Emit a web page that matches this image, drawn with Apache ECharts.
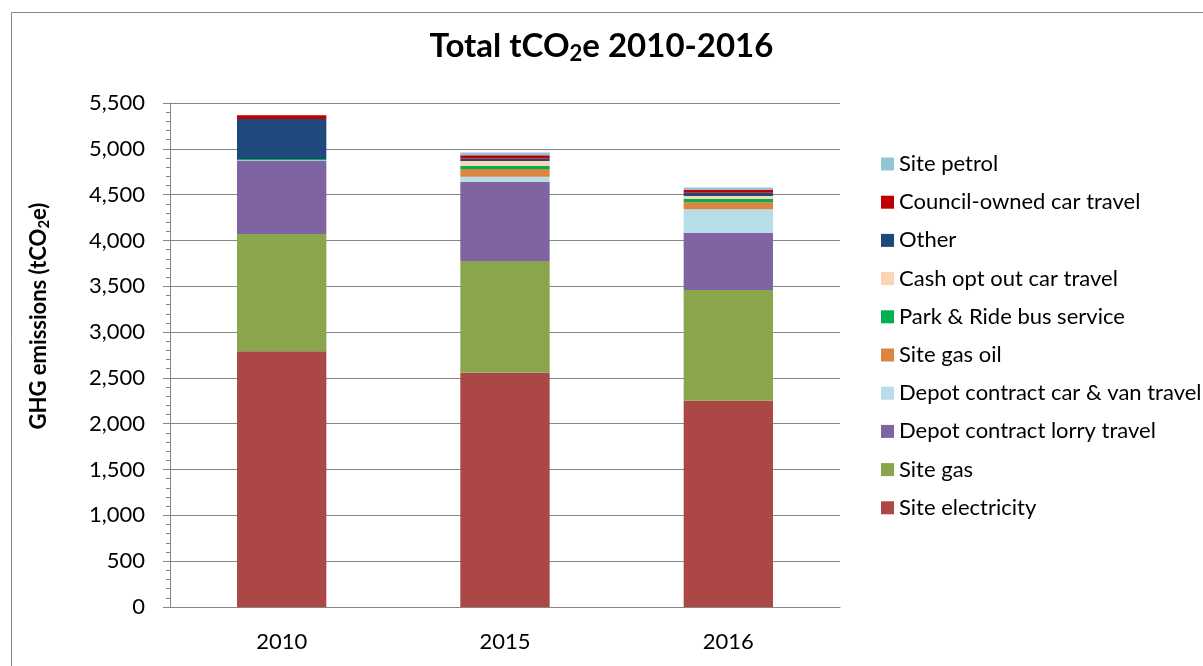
<!DOCTYPE html>
<html>
<head>
<meta charset="utf-8">
<script src="https://cdn.jsdelivr.net/npm/echarts@6/dist/echarts.min.js"></script>
<style>
  html, body { margin: 0; padding: 0; background: #fff; }
  #main { width: 1203px; height: 666px; }
</style>
</head>
<body>
<div id="main"></div>
<script>
// years on the x axis
const years = ['2010', '2015', '2016']

// series values, bottom of stack first (tCO2e)
const siteElectricity = [2790, 2555, 2250]
const siteGas = [1280, 1220, 1210]
const depotLorry = [800, 865, 625]
const depotCarVan = [5, 55, 255]
const siteGasOil = [0, 84, 76]
const parkRide = [15, 36, 36]
const cashOptOut = [0, 51, 33]
const other = [435, 29, 36]
const councilCar = [40, 36, 29]
const sitePetrol = [0, 29, 29]

const yTicks = [0, 500, 1000, 1500, 2000, 2500, 3000, 3500, 4000, 4500, 5000, 5500]

const font = 'Lato, "Liberation Sans", sans-serif'
const axisGrey = '#868686'

const stack = [
  { name: 'Site electricity', data: siteElectricity, color: '#AB4744' },
  { name: 'Site gas', data: siteGas, color: '#8AA64D' },
  { name: 'Depot contract lorry travel', data: depotLorry, color: '#8064A2' },
  { name: 'Depot contract car & van travel', data: depotCarVan, color: '#B7DEE8' },
  { name: 'Site gas oil', data: siteGasOil, color: '#DD8540' },
  { name: 'Park & Ride bus service', data: parkRide, color: '#00B050' },
  { name: 'Cash opt out car travel', data: cashOptOut, color: '#FBD4B4' },
  { name: 'Other', data: other, color: '#1F497D' },
  { name: 'Council-owned car travel', data: councilCar, color: '#C00000' },
  { name: 'Site petrol', data: sitePetrol, color: '#93C4D6' }
]

let chart = echarts.init(document.getElementById('main'))

chart.setOption({
  backgroundColor: '#fff',
  animation: false,
  title: {
    text: '{t|Total tCO}{s|2}{t|e 2010-2016}',
    left: 'center',
    top: 22,
    textStyle: {
      rich: {
        t: { fontFamily: font, fontSize: 33, fontWeight: 'bold', color: '#000' },
        s: { fontFamily: font, fontSize: 22, fontWeight: 'bold', color: '#000', padding: [16, 0, 0, 0] }
      }
    }
  },
  legend: {
    orient: 'vertical',
    left: 881,
    top: 153,
    padding: 0,
    itemWidth: 13,
    itemHeight: 13,
    itemGap: 16.2,
    icon: 'rect',
    // legend lists top of stack first
    data: stack.map(s => s.name).reverse(),
    textStyle: { fontFamily: font, fontSize: 22, lineHeight: 22, color: '#000' }
  },
  grid: {
    left: 170,
    right: 363,
    top: 103,
    bottom: 59
  },
  xAxis: {
    type: 'category',
    data: years,
    axisLine: { lineStyle: { color: axisGrey } },
    axisTick: { length: 6, lineStyle: { color: axisGrey } },
    axisLabel: { fontFamily: font, fontSize: 22, color: '#000', margin: 24 }
  },
  yAxis: {
    type: 'value',
    min: yTicks[0],
    max: yTicks[yTicks.length - 1],
    interval: 500,
    axisLine: { show: true, lineStyle: { color: axisGrey } },
    axisTick: { show: true, length: 7, lineStyle: { color: axisGrey } },
    minorTick: { show: true, splitNumber: 5, length: 4, lineStyle: { color: axisGrey } },
    splitLine: { lineStyle: { color: axisGrey } },
    axisLabel: {
      fontFamily: font,
      fontSize: 22,
      color: '#000',
      margin: 25,
      formatter: v => v.toLocaleString('en-US')
    }
  },
  graphic: [
    {
      type: 'rect',
      shape: { x: 11.5, y: 12.5, width: 1300, height: 700 },
      style: { fill: 'none', stroke: axisGrey, lineWidth: 1 },
      silent: true
    },
    {
      // y axis title, sits a bit above the axis middle like the original
      type: 'text',
      x: 39,
      y: 316,
      rotation: Math.PI / 2,
      style: {
        text: '{t|GHG emissions (tCO}{s|2}{t|e)}',
        align: 'center',
        verticalAlign: 'middle',
        rich: {
          t: { fontFamily: font, fontSize: 22, fontWeight: 'bold', fill: '#000' },
          s: { fontFamily: font, fontSize: 15, fontWeight: 'bold', fill: '#000', padding: [11, 0, 0, 0] }
        }
      },
      silent: true
    }
  ],
  series: stack.map(s => ({
    name: s.name,
    type: 'bar',
    stack: 'total',
    barWidth: '40%',
    data: s.data,
    itemStyle: { color: s.color }
  }))
})
</script>
</body>
</html>
